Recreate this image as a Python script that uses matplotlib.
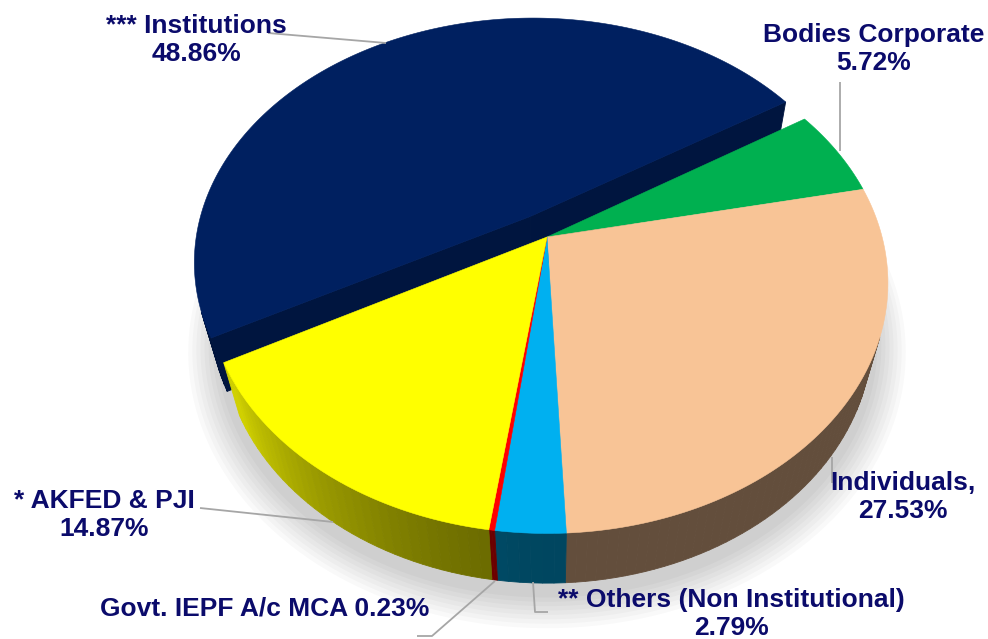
import numpy as np
import matplotlib.pyplot as plt
from matplotlib.patches import Polygon
from matplotlib.colors import to_rgb

labels = ["*** Institutions", "Bodies Corporate", "Individuals,",
          "** Others (Non Institutional)", "Govt. IEPF A/c MCA", "* AKFED & PJI"]
shares = [48.86, 5.72, 27.53, 2.79, 0.23, 14.87]
colors = ["#002060", "#00B050", "#F8C496", "#00B0F0", "#FF0000", "#FFFF00"]
explode = [0.10, 0, 0, 0, 0, 0]

# label layout (pixel coords), one line or label + value on two lines
label_pos = [(196, 40), (874, 49), (903, 497), (731, 614), (265, 609), (104, 515)]
label_inline = [False, False, False, False, True, False]
leaders = [
    [(268, 33), (386, 43)],
    [(840, 82), (840, 151)],
    [(832, 457), (832, 483)],
    [(533, 582), (535, 612), (548, 612)],
    [(495, 581), (432, 636), (417, 636)],
    [(200, 508), (333, 522)],
]

# view of the 3d pie
CX, CY = 547, 237
ELEV = np.radians(46.2)
DIST = 3.76
FOC = 1260
THICK = 0.245
START = 208.3
CAM = np.array([0, -DIST * np.cos(ELEV), DIST * np.sin(ELEV)])
TEXT_COLOR = "#0B0B6B"


def proj(u, v, z):
    u = np.atleast_1d(np.asarray(u, float))
    v = np.atleast_1d(np.asarray(v, float))
    z = np.broadcast_to(np.asarray(z, float), u.shape)
    yc = v * np.sin(ELEV) + z * np.cos(ELEV)
    d = DIST + v * np.cos(ELEV) - z * np.sin(ELEV)
    return np.column_stack([CX + FOC * u / d, CY - FOC * yc / d])


def shade(col, f):
    return tuple(np.clip(np.array(to_rgb(col)) * f, 0, 1))


def wall_light(phi):
    # brighter towards the left front, flat dark elsewhere
    p = (phi + 270) % 360 - 270
    t = np.clip((-90 - p) / 58, 0, 1)
    return 0.4 + 0.42 * t ** 1.5


def visible(p, n):
    return np.dot(CAM - p, n) > 0


fig = plt.figure(figsize=(9.88, 6.39), dpi=100)
ax = fig.add_axes([0, 0, 1, 1])
ax.set_xlim(0, 988)
ax.set_ylim(639, 0)
ax.axis("off")

total = sum(shares)
spans = []
a = START
for s in shares:
    a2 = a - s / total * 360
    spans.append((a2, a))
    a = a2

# soft shadow under the pie
ring = np.radians(np.linspace(0, 360, 200))
for k in range(8):
    r = 1.0 + 0.012 * (8 - k)
    pts = proj(r * np.cos(ring), r * np.sin(ring) - 0.02, -THICK)
    pts[:, 1] += 3
    ax.add_patch(Polygon(pts, closed=True, fc="black", ec="none", alpha=0.025, zorder=1))


def draw_walls(i, z0):
    lo, hi = spans[i]
    mid = np.radians((lo + hi) / 2)
    ou, ov = explode[i] * np.cos(mid), explode[i] * np.sin(mid)
    n = max(int(abs(hi - lo) / 1.5), 2)
    phis = np.linspace(lo, hi, n + 1)
    for p1, p2 in zip(phis[:-1], phis[1:]):
        pm = np.radians((p1 + p2) / 2)
        nrm = np.array([np.cos(pm), np.sin(pm), 0])
        if not visible(np.array([ou + nrm[0], ov + nrm[1], -THICK / 2]), nrm):
            continue
        t = np.radians([p1, p2, p2, p1])
        zz = np.array([0, 0, -THICK, -THICK])
        pts = proj(ou + np.cos(t), ov + np.sin(t), zz)
        f = 0.62 if explode[i] > 0 else wall_light((p1 + p2) / 2)
        c = shade(colors[i], f)
        ax.add_patch(Polygon(pts, closed=True, fc=c, ec=c, lw=0.6, zorder=z0))
    # radial walls only where the neighbour on that side is pulled apart
    prev_i, next_i = (i - 1) % len(shares), (i + 1) % len(shares)
    edges = [(hi, 90, explode[i] > 0 or explode[prev_i] > 0),
             (lo, -90, explode[i] > 0 or explode[next_i] > 0)]
    for ang, side, exposed in edges:
        if not exposed:
            continue
        r = np.radians(ang)
        nrm = np.array([np.cos(r + np.radians(side)), np.sin(r + np.radians(side)), 0])
        pm = np.array([ou + 0.5 * np.cos(r), ov + 0.5 * np.sin(r), -THICK / 2])
        if not visible(pm, nrm):
            continue
        pts = proj([ou, ou + np.cos(r), ou + np.cos(r), ou],
                   [ov, ov + np.sin(r), ov + np.sin(r), ov],
                   np.array([0, 0, -THICK, -THICK]))
        c = shade(colors[i], 0.66)
        ax.add_patch(Polygon(pts, closed=True, fc=c, ec=c, lw=0.6, zorder=z0))


def draw_top(i, z0):
    lo, hi = spans[i]
    mid = np.radians((lo + hi) / 2)
    ou, ov = explode[i] * np.cos(mid), explode[i] * np.sin(mid)
    t = np.radians(np.linspace(lo, hi, max(int(abs(hi - lo)), 2) + 1))
    u = np.concatenate([[ou], ou + np.cos(t)])
    v = np.concatenate([[ov], ov + np.sin(t)])
    pts = proj(u, v, 0)
    ax.add_patch(Polygon(pts, closed=True, fc=colors[i], ec=colors[i], lw=0.4, zorder=z0))


order_back = [i for i in range(len(shares)) if explode[i] > 0]
order_front = [i for i in range(len(shares)) if explode[i] == 0]
for i in order_back:
    draw_walls(i, 2)
    draw_top(i, 3)
for i in order_front:
    draw_walls(i, 4)
for i in order_front:
    draw_top(i, 5)

# leader lines and labels
for pts in leaders:
    xs, ys = zip(*pts)
    ax.plot(xs, ys, color="#A6A6A6", lw=1.3, zorder=6, solid_capstyle="butt")

for i, (lab, s) in enumerate(zip(labels, shares)):
    sep = " " if label_inline[i] else "\n"
    x, y = label_pos[i]
    ax.text(x, y, f"{lab}{sep}{s:.2f}%", ha="center", va="center", multialignment="center",
            fontsize=19, fontweight="bold", family=["Liberation Sans", "DejaVu Sans"],
            color=TEXT_COLOR, zorder=7)

fig.savefig("out.png", dpi=100)
